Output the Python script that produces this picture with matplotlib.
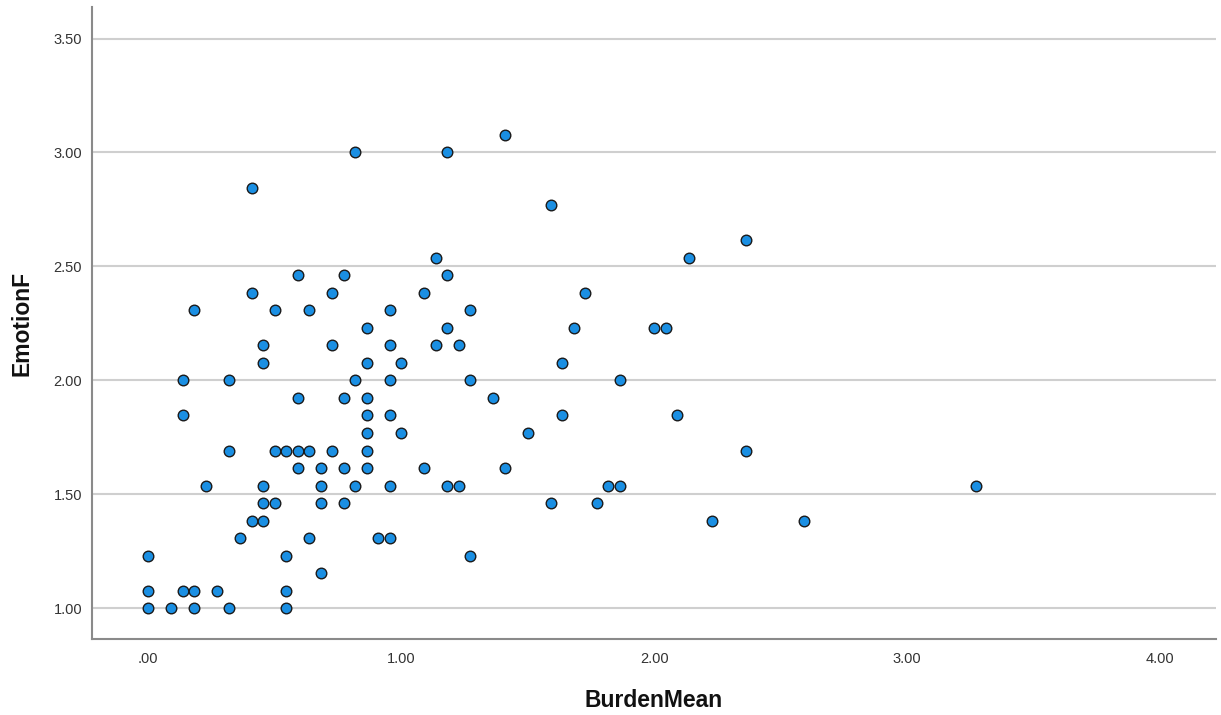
import matplotlib
matplotlib.use('Agg')
from matplotlib import pyplot as plt

# BurdenMean / EmotionF pairs (bottom to top)
burden = [
    0.000, 0.091, 0.182, 0.318, 0.545,                    # 1.00
    0.000, 0.136, 0.182, 0.273, 0.545,                    # 1.08
    0.682,                                                # 1.15
    0.000, 0.545, 1.273,                                  # 1.23
    0.364, 0.636, 0.909, 0.955,                           # 1.31
    0.409, 0.455, 2.227, 2.591,                           # 1.38
    0.455, 0.500, 0.682, 0.773, 1.591, 1.773,             # 1.46
    0.227, 0.455, 0.682, 0.818, 0.955, 1.182, 1.227, 1.818, 1.864, 3.273,  # 1.54
    0.591, 0.682, 0.773, 0.864, 1.091, 1.409,             # 1.62
    0.318, 0.500, 0.545, 0.591, 0.636, 0.727, 0.864, 2.364,  # 1.69
    0.864, 1.000, 1.500,                                  # 1.77
    0.136, 0.864, 0.955, 1.636, 2.091,                    # 1.85
    0.591, 0.773, 0.864, 1.364,                           # 1.92
    0.136, 0.318, 0.818, 0.955, 1.273, 1.864,             # 2.00
    0.455, 0.864, 1.000, 1.636,                           # 2.08
    0.455, 0.727, 0.955, 1.136, 1.227,                    # 2.15
    0.864, 1.182, 1.682, 2.000, 2.045,                    # 2.23
    0.182, 0.500, 0.636, 0.955, 1.273,                    # 2.31
    0.409, 0.727, 1.091, 1.727,                           # 2.38
    0.591, 0.773, 1.182,                                  # 2.46
    1.136, 2.136,                                         # 2.54
    2.364,                                                # 2.62
    1.591,                                                # 2.77
    0.409,                                                # 2.85
    0.818, 1.182,                                         # 3.00
    1.409,                                                # 3.08
]

emotion = (
    [1.000] * 5 + [1.077] * 5 + [1.154] * 1 + [1.231] * 3 + [1.308] * 4 +
    [1.385] * 4 + [1.462] * 6 + [1.538] * 10 + [1.615] * 6 + [1.692] * 8 +
    [1.769] * 3 + [1.846] * 5 + [1.923] * 4 + [2.000] * 6 + [2.077] * 4 +
    [2.154] * 5 + [2.231] * 5 + [2.308] * 5 + [2.385] * 4 + [2.462] * 3 +
    [2.538] * 2 + [2.615] * 1 + [2.769] * 1 + [2.846] * 1 + [3.000] * 2 +
    [3.077] * 1
)

x_ticks = [0, 1, 2, 3, 4]
x_ticklabels = ['.00', '1.00', '2.00', '3.00', '4.00']
y_ticks = [1.0, 1.5, 2.0, 2.5, 3.0, 3.5]
y_ticklabels = ['1.00', '1.50', '2.00', '2.50', '3.00', '3.50']

plt.rcParams['font.family'] = ['Liberation Sans', 'DejaVu Sans']

fig = plt.figure(figsize=(12.21, 7.15), dpi=100)
ax = fig.add_axes([0.0753, 0.1056, 0.9206, 0.8842])

ax.scatter(burden, emotion, s=58, c='#1a8fe3', edgecolors='#1a1a1a',
           linewidths=1.0, zorder=3)

ax.set_xlim(-0.222, 4.22)
ax.set_ylim(0.863, 3.637)

ax.set_xticks(x_ticks)
ax.set_xticklabels(x_ticklabels)
ax.set_yticks(y_ticks)
ax.set_yticklabels(y_ticklabels)
ax.tick_params(axis='both', length=0, labelsize=10.5, labelcolor='#333333')
ax.tick_params(axis='x', pad=9)
ax.tick_params(axis='y', pad=7)

ax.yaxis.grid(True, color='#cfcfcf', linewidth=1.5, zorder=0)
ax.set_axisbelow(True)

for side in ['top', 'right']:
    ax.spines[side].set_visible(False)
for side in ['left', 'bottom']:
    ax.spines[side].set_color('#8a8a8a')
    ax.spines[side].set_linewidth(1.5)

ax.set_xlabel('BurdenMean', fontsize=16.5, fontweight='bold', color='#111111')
ax.set_ylabel('EmotionF', fontsize=16.5, fontweight='bold', color='#111111')
ax.xaxis.set_label_coords(0.5, -0.078)
ax.yaxis.set_label_coords(-0.052, 0.5)

fig.savefig('out.png', dpi=100)
